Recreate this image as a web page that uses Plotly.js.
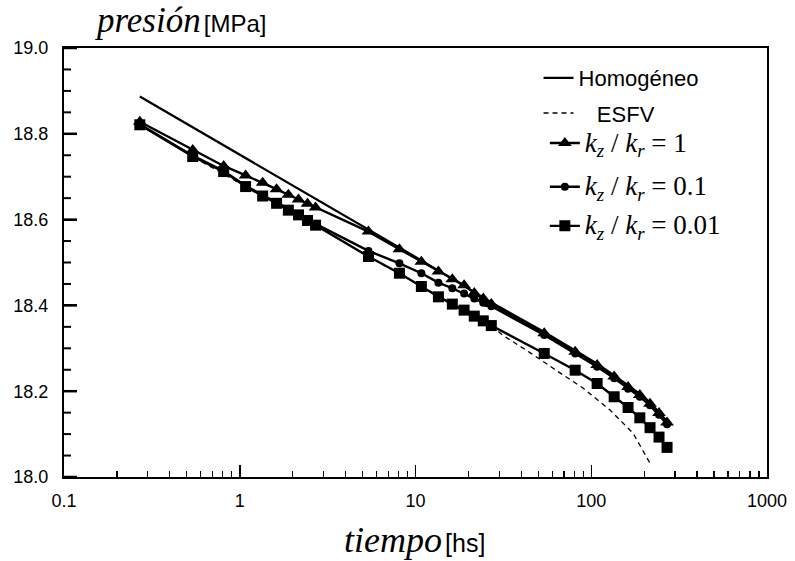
<!DOCTYPE html>
<html>
<head>
<meta charset="utf-8">
<script src="https://cdn.plot.ly/plotly-3.0.1.min.js"></script>
<style>html,body{margin:0;padding:0;background:#fff;}#chart{width:795px;height:561px;}</style>
</head>
<body>
<div id="chart"></div>
<script>
// time points [hs]
const tMarkers = [0.27,0.54,0.81,1.08,1.35,1.62,1.89,2.16,2.43,2.7,
                  5.4,8.1,10.8,13.5,16.2,18.9,21.6,24.3,27,
                  54,81,108,135,162,189,216,243,270];
// kz/kr = 1 (triangles)
const pK1 = [18.828,18.762,18.725,18.703,18.686,18.671,18.658,18.647,18.637,18.628,
             18.572,18.531,18.502,18.479,18.461,18.447,18.429,18.416,18.403,
             18.335,18.292,18.261,18.234,18.210,18.191,18.171,18.149,18.127];
// kz/kr = 0.1 (circles)
const pK01 = [18.822,18.749,18.713,18.679,18.657,18.640,18.624,18.613,18.600,18.590,
              18.527,18.498,18.475,18.453,18.440,18.428,18.416,18.406,18.398,
              18.331,18.288,18.257,18.230,18.206,18.187,18.167,18.145,18.123];
// kz/kr = 0.01 (squares)
const pK001 = [18.821,18.747,18.712,18.677,18.655,18.638,18.622,18.611,18.598,18.587,
               18.514,18.475,18.444,18.420,18.403,18.389,18.375,18.364,18.353,
               18.288,18.249,18.218,18.187,18.162,18.138,18.115,18.093,18.069];
// Homogeneous solution (solid line)
const tHom = [0.27,0.54,1.08,2.7,5.4,8.1,10.8,27,54,81,108,135,162,189,216,243,270];
const pHom = [18.887,18.815,18.743,18.648,18.576,18.534,18.505,18.407,18.338,18.295,18.264,18.237,18.213,18.194,18.174,18.152,18.130];
// ESFV (dashed line)
const tESFV = [0.27,0.54,1.08,2.7,5.4,10.8,27,31.5,44.8,64,90,128,173,216];
const pESFV = [18.821,18.747,18.677,18.587,18.514,18.444,18.353,18.330,18.290,18.247,18.207,18.156,18.102,18.032];

const xTickVals = [0.1,1,10,100,1000];
const xTickText = ['0.1','1','10','100','1000'];
const xMinorVals = [0.2,0.3,0.4,0.5,0.6,0.7,0.8,0.9,2,3,4,5,6,7,8,9,20,30,40,50,60,70,80,90,200,300,400,500,600,700,800,900];
const yTickVals = [18.0,18.2,18.4,18.6,18.8,19.0];
const yTickText = ['18.0','18.2','18.4','18.6','18.8','19.0'];
const yMinorVals = [18.05,18.1,18.15,18.25,18.3,18.35,18.45,18.5,18.55,18.65,18.7,18.75,18.85,18.9,18.95];

const sans = 'Liberation Sans, Arial, sans-serif';
const nb = '\u00a0\u00a0';
const kLabel = v => '<span style="font-family:Liberation Serif;font-size:27px"><i>k<sub>z</sub></i> / <i>k<sub>r</sub></i> = ' + v + '</span>';

const traces = [
  {x:tHom, y:pHom, mode:'lines', name:'Homogéneo', legend:'legend', line:{color:'#000', width:2.2}},
  {x:tESFV, y:pESFV, mode:'lines', name:'&nbsp;&nbsp;&nbsp;ESFV', legend:'legend2', line:{color:'#000', width:1.3, dash:'5px,4px'}},
  {x:tMarkers, y:pK1, mode:'lines+markers', name:kLabel('1'), legend:'legend3', line:{color:'#000', width:2.4}, marker:{symbol:'triangle-up', size:12, color:'#000'}},
  {x:tMarkers, y:pK01, mode:'lines+markers', name:kLabel('0.1'), legend:'legend4', line:{color:'#000', width:2.4}, marker:{symbol:'circle', size:8, color:'#000'}},
  {x:tMarkers, y:pK001, mode:'lines+markers', name:kLabel('0.01'), legend:'legend5', line:{color:'#000', width:2.4}, marker:{symbol:'square', size:11, color:'#000'}}
];

// y-axis tick marks (inside), placed through the y scale; lengths as fractions of plot width (703 px)
const tickShape = (v, frac, w) => ({type:'line', xref:'paper', yref:'y', x0:0, x1:frac, y0:v, y1:v, line:{color:'#000', width:w}, layer:'above'});
const yTickShapes = yTickVals.map(v => tickShape(v, 0.0185, 2.5)).concat(yMinorVals.map(v => tickShape(v, 0.010, 2)));

const legBase = {xanchor:'left', yanchor:'middle', bgcolor:'rgba(0,0,0,0)', borderwidth:0, font:{family:sans, size:22, color:'#000'}, itemwidth:30};

const layout = {
  width:795, height:561,
  margin:{l:64, r:28, t:48, b:84},
  paper_bgcolor:'#fff', plot_bgcolor:'#fff',
  showlegend:true,
  legend: Object.assign({}, legBase, {x:0.675, y:0.930}),
  legend2: Object.assign({}, legBase, {x:0.675, y:0.848}),
  legend3: Object.assign({}, legBase, {x:0.684, y:0.778}),
  legend4: Object.assign({}, legBase, {x:0.684, y:0.676}),
  legend5: Object.assign({}, legBase, {x:0.684, y:0.585}),
  xaxis:{type:'log', range:[-1,3], tickmode:'array', tickvals:xTickVals, ticktext:xTickText,
         ticks:'inside', ticklen:12, tickwidth:1.5, tickcolor:'#000',
         minor:{tickmode:'array', tickvals:xMinorVals, ticks:'inside', ticklen:6, tickwidth:1.2, tickcolor:'#000', showgrid:false},
         showline:true, linecolor:'#000', linewidth:2, mirror:true, showgrid:false, zeroline:false,
         tickfont:{family:sans, size:18, color:'#000'}, ticklabelstandoff:6},
  yaxis:{range:[18.0,19.0], tickmode:'array', tickvals:yTickVals, ticktext:yTickText.map(s => s + nb),
         ticks:'inside', ticklen:13, tickwidth:2, tickcolor:'#000',
         showline:true, linecolor:'#000', linewidth:2, mirror:true, showgrid:false, zeroline:false,
         tickfont:{family:sans, size:18, color:'#000'}},
  shapes: yTickShapes,
  annotations:[
    {xref:'paper', yref:'paper', x:0.040, y:1.063, xanchor:'left', yanchor:'middle', showarrow:false,
     text:'<span style="font-family:Liberation Serif;font-size:35px"><i>presión</i></span>\u00a0<span style="font-family:Liberation Sans;font-size:24px">[MPa]</span>', font:{color:'#000'}},
    {xref:'paper', yref:'paper', x:0.498, y:-0.147, xanchor:'center', yanchor:'middle', showarrow:false,
     text:'<span style="font-family:Liberation Serif;font-size:36px"><i>tiempo</i></span>\u00a0<span style="font-family:Liberation Sans;font-size:25px">[hs]</span>', font:{color:'#000'}}
  ]
};

Plotly.newPlot('chart', traces, layout, {displayModeBar:false, staticPlot:true});
</script>
</body>
</html>
